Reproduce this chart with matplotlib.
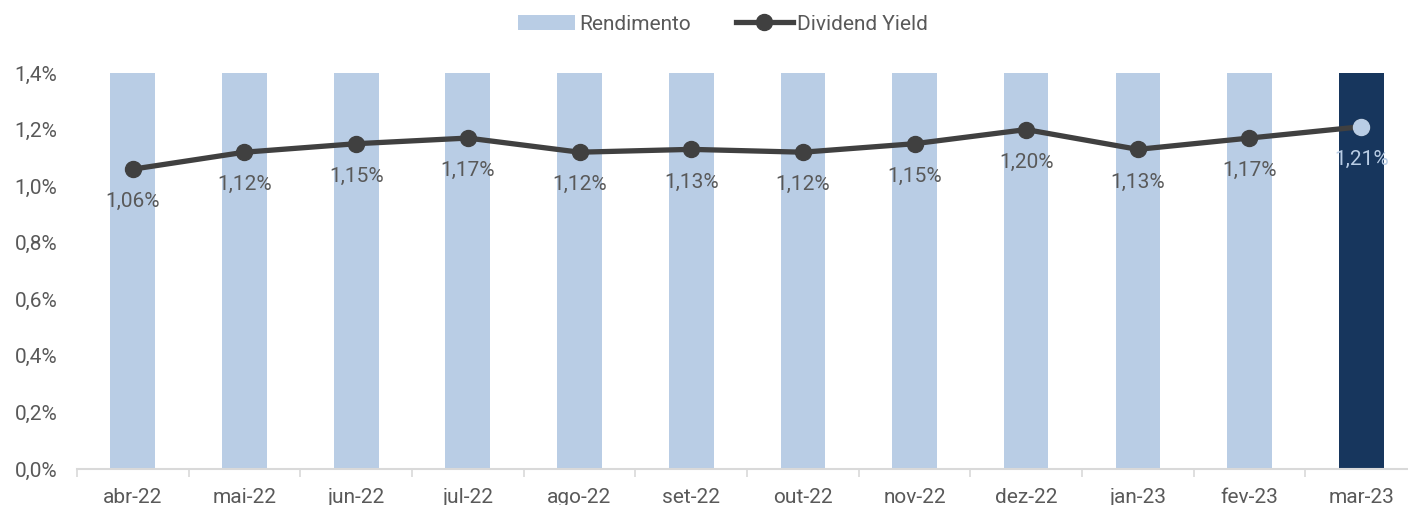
import matplotlib.pyplot as plt
import numpy as np
from matplotlib.ticker import FuncFormatter, FixedLocator

months = ['abr-22', 'mai-22', 'jun-22', 'jul-22', 'ago-22', 'set-22',
          'out-22', 'nov-22', 'dez-22', 'jan-23', 'fev-23', 'mar-23']
rendimento = [1.4, 1.4, 1.4, 1.4, 1.4, 1.4, 1.4, 1.4, 1.4, 1.4, 1.4, 1.4]
dividend_yield = [1.06, 1.12, 1.15, 1.17, 1.12, 1.13, 1.12, 1.15, 1.20, 1.13, 1.17, 1.21]

plt.rcParams['font.family'] = ['Roboto', 'DejaVu Sans']
text_color = '#595959'
light_blue = '#B9CDE5'
dark_blue = '#17365D'
line_color = '#404040'

fig = plt.figure(figsize=(14.08, 5.05), dpi=100)
axs = fig.add_axes([77 / 1408, 36 / 505, 1340 / 1408, 396 / 505])

x = np.arange(len(months))
colors = [light_blue] * (len(months) - 1) + [dark_blue]
bars = axs.bar(x, rendimento, width=0.4, color=colors, zorder=1, label='Rendimento')
line, = axs.plot(x, dividend_yield, color=line_color, lw=3.8, marker='o', ms=11.5,
                 zorder=3, label='Dividend Yield')
# highlight last point
axs.plot(x[-1:], dividend_yield[-1:], ls='none', marker='o', ms=11.5,
         color=light_blue, zorder=4)

for i, v in enumerate(dividend_yield):
    c = light_blue if i == len(months) - 1 else text_color
    axs.annotate(('%.2f%%' % v).replace('.', ','), (i, v), xytext=(0, -23.5),
                 textcoords='offset points', ha='center', va='center',
                 fontsize=15, color=c)

# customizing chart
axs.set_xlim(-0.5, len(months) - 0.5)
axs.set_ylim(0, 1.4)
axs.set_yticks(np.arange(0, 1.41, 0.2))
axs.yaxis.set_major_formatter(FuncFormatter(lambda v, p: ('%.1f%%' % v).replace('.', ',')))
axs.set_xticks(x)
axs.set_xticklabels(months)
axs.xaxis.set_minor_locator(FixedLocator(np.arange(-0.5, len(months), 1.0)))
axs.tick_params(axis='x', which='major', length=0, pad=14, labelsize=15, labelcolor=text_color)
axs.tick_params(axis='x', which='minor', length=6, color='#D9D9D9', width=1.2)
axs.tick_params(axis='y', length=0, pad=14, labelsize=15, labelcolor=text_color)

for s in ['top', 'right', 'left']:
    axs.spines[s].set_visible(False)
axs.spines['bottom'].set_color('#D9D9D9')
axs.spines['bottom'].set_linewidth(1.5)

leg = fig.legend([bars, line], ['Rendimento', 'Dividend Yield'], loc='center',
                 bbox_to_anchor=(723 / 1408, 1 - 24 / 505),
                 ncol=2, frameon=False, fontsize=15, handlelength=2.7,
                 columnspacing=2.2, handletextpad=0.2)
for t in leg.get_texts():
    t.set_color(text_color)

plt.savefig('out.png', dpi=100)
plt.close(fig)
